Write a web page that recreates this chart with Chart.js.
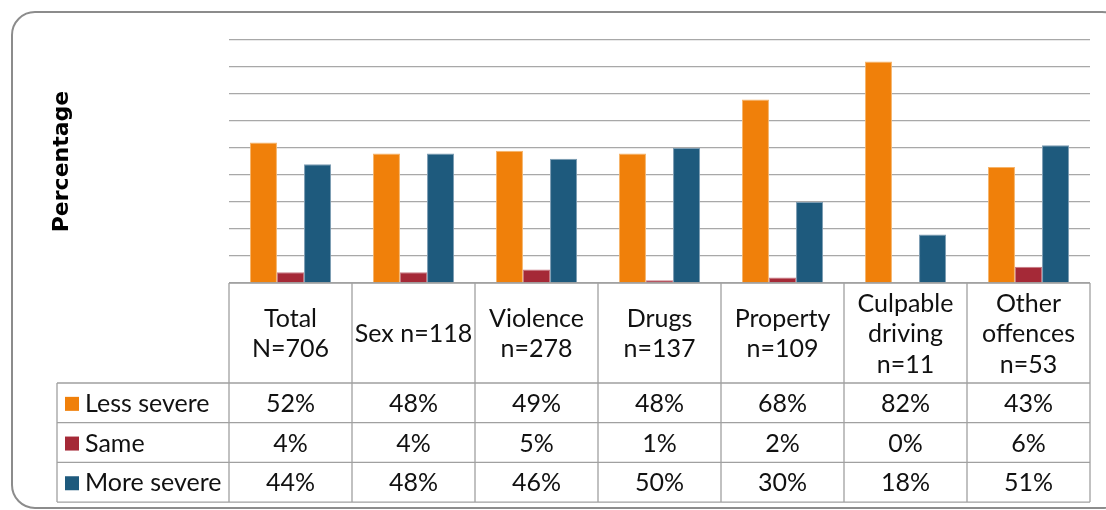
<!DOCTYPE html>
<html>
<head>
<meta charset="utf-8">
<title>Sentence severity by offence</title>
<script src="https://cdn.jsdelivr.net/npm/chart.js@4/dist/chart.umd.min.js"></script>
<style>
    html, body { margin: 0; padding: 0; background: #ffffff; }
    #wrap { position: relative; width: 1106px; height: 510px; overflow: hidden; }
    #frame {
        position: absolute; left: 11px; top: 11px; width: 1115px; height: 498px;
        box-sizing: border-box; border: 2px solid #8c8c8c; border-radius: 24px;
    }
    #severityChart { position: absolute; left: 0; top: 0; }
</style>
</head>
<body>
<div id="wrap">
    <div id="frame"></div>
    <canvas id="severityChart" width="1106" height="510"></canvas>
</div>
<script>
// categories (header cells of the table, one array per line)
const categories = [
    ['Total', 'N=706'],
    ['Sex n=118'],
    ['Violence', 'n=278'],
    ['Drugs', 'n=137'],
    ['Property', 'n=109'],
    ['Culpable', 'driving', 'n=11'],
    ['Other', 'offences', 'n=53']
];

const seriesNames = ['Less severe', 'Same', 'More severe'];
const lessSevere = [52, 48, 49, 48, 68, 82, 43];
const same = [4, 4, 5, 1, 2, 0, 6];
const moreSevere = [44, 48, 46, 50, 30, 18, 51];
const yTicks = [0, 10, 20, 30, 40, 50, 60, 70, 80, 90];

const colors = ['#f0800a', '#a52937', '#1e5a7d'];
const edgeColors = ['#f6b46a', '#c77a84', '#7d9db3'];

const TABLE_FONT = '25px Lato, "Open Sans", sans-serif';
const LEGEND_LEFT = 57;
const HEADER_BOTTOM = 383;
const ROW_HEIGHT = 39.7;

// draws the data table under the plot, columns follow the x scale
const tablePlugin = {
    id: 'dataTable',
    afterDraw(chart) {
        const ctx = chart.ctx;
        const x = chart.scales.x;
        const area = chart.chartArea;
        const half = (x.getPixelForValue(1) - x.getPixelForValue(0)) / 2;
        const top = area.bottom;
        const bottom = HEADER_BOTTOM + ROW_HEIGHT * seriesNames.length;

        ctx.save();
        ctx.strokeStyle = '#a0a0a0';
        ctx.lineWidth = 1.3;

        // horizontal lines
        ctx.beginPath();
        ctx.moveTo(area.left, top);
        ctx.lineTo(area.right, top);
        for (let r = 0; r <= seriesNames.length; r++) {
            const y = HEADER_BOTTOM + ROW_HEIGHT * r;
            ctx.moveTo(LEGEND_LEFT, y);
            ctx.lineTo(area.right, y);
        }
        // vertical lines
        ctx.moveTo(LEGEND_LEFT, HEADER_BOTTOM);
        ctx.lineTo(LEGEND_LEFT, bottom);
        categories.forEach((c, i) => {
            const cx = x.getPixelForValue(i);
            ctx.moveTo(cx - half, top);
            ctx.lineTo(cx - half, bottom);
        });
        const lastX = x.getPixelForValue(categories.length - 1) + half;
        ctx.moveTo(lastX, top);
        ctx.lineTo(lastX, bottom);
        ctx.stroke();

        ctx.fillStyle = '#111111';
        ctx.font = TABLE_FONT;
        ctx.textAlign = 'center';
        ctx.textBaseline = 'middle';

        // header cells
        const headerMid = (top + HEADER_BOTTOM) / 2 + 1;
        const lineH = 30.5;
        categories.forEach((lines, i) => {
            const cx = x.getPixelForValue(i);
            const startY = headerMid - (lines.length - 1) * lineH / 2;
            lines.forEach((t, k) => ctx.fillText(t, cx, startY + k * lineH));
        });

        // value rows with legend keys
        const rows = [lessSevere, same, moreSevere];
        rows.forEach((values, r) => {
            const midY = HEADER_BOTTOM + ROW_HEIGHT * r + ROW_HEIGHT / 2 + 1;
            ctx.fillStyle = colors[r];
            ctx.fillRect(LEGEND_LEFT + 8, midY - 7, 14, 14);
            ctx.fillStyle = '#111111';
            ctx.textAlign = 'left';
            ctx.fillText(seriesNames[r], LEGEND_LEFT + 28, midY);
            ctx.textAlign = 'center';
            values.forEach((v, i) => {
                ctx.fillText(v + '%', x.getPixelForValue(i), midY);
            });
        });
        ctx.restore();
    }
};

const ctx = document.getElementById('severityChart').getContext('2d');
const severityChart = new Chart(ctx, {
    type: 'bar',
    data: {
        labels: categories,
        datasets: [lessSevere, same, moreSevere].map((values, i) => ({
            label: seriesNames[i],
            data: values,
            backgroundColor: colors[i],
            borderColor: edgeColors[i],
            borderWidth: 1,
            barPercentage: 1.0,
            categoryPercentage: 0.66
        }))
    },
    options: {
        responsive: false,
        animation: false,
        layout: {
            padding: { left: 49, right: 16, top: 40, bottom: 227 }
        },
        plugins: {
            legend: { display: false },
            tooltip: { enabled: false }
        },
        scales: {
            x: {
                ticks: { display: false },
                grid: { display: false },
                border: { display: false },
                afterFit: (scale) => { scale.height = 0; }
            },
            y: {
                min: yTicks[0],
                max: yTicks[yTicks.length - 1],
                afterBuildTicks: (scale) => {
                    scale.ticks = yTicks.map(v => ({ value: v }));
                },
                ticks: { display: false },
                grid: { color: '#a8a8a8', lineWidth: 1.2, drawTicks: false },
                border: { display: false },
                title: {
                    display: true,
                    text: 'Percentage',
                    color: '#000000',
                    padding: 0,
                    font: { family: '"DejaVu Sans", sans-serif', size: 22, weight: 'bold' }
                },
                afterFit: (scale) => { scale.width = 180; }
            }
        }
    },
    plugins: [tablePlugin]
});
</script>
</body>
</html>
